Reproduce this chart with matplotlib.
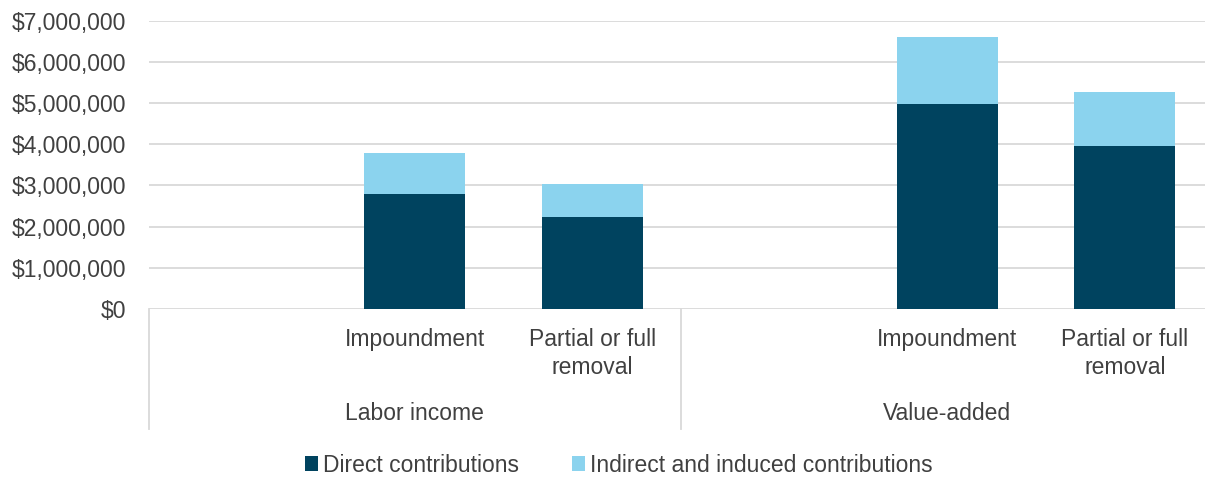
import matplotlib
matplotlib.use("Agg")
import matplotlib.pyplot as plt
from matplotlib.patches import Patch
from matplotlib.ticker import FuncFormatter
import numpy as np

# data (blank slot at the start of each group, as in the original chart)
groups = ["Labor income", "Value-added"]
categories = ["", "Impoundment", "Partial or full\nremoval",
              "", "Impoundment", "Partial or full\nremoval"]
direct = [0, 2800000, 2230000, 0, 4980000, 3960000]
indirect = [0, 990000, 800000, 0, 1620000, 1300000]
series_names = ["Direct contributions", "Indirect and induced contributions"]

dark = "#00435F"
light = "#8BD3EE"
grid_c = "#D9D9D9"
txt_c = "#404040"

plt.rcParams['font.family'] = ['Liberation Sans', 'DejaVu Sans']
fs = 16.5

W, H = 1205, 478
fig = plt.figure(figsize=(W / 100, H / 100), dpi=100)
left, right, top, bottom = 148.6, 1205, 20.5, 309
ax = fig.add_axes([left / W, 1 - bottom / H, (right - left) / W, (bottom - top) / H])

slot = 177.5
x = np.arange(len(categories))
ax.bar(x, direct, width=0.57, color=dark, linewidth=0, zorder=3)
ax.bar(x, indirect, width=0.57, bottom=direct, color=light, linewidth=0, zorder=3)

ax.set_ylim(0, 7000000)
ax.set_xlim(-0.5, -0.5 + (right - left) / slot)
ax.set_yticks(np.arange(0, 7000001, 1000000))
ax.yaxis.set_major_formatter(FuncFormatter(lambda v, p: "${:,.0f}".format(v)))
ax.grid(axis='y', color=grid_c, linewidth=1.3, zorder=0)
for s in ax.spines.values():
    s.set_visible(False)
ax.tick_params(axis='y', length=0, pad=16, labelsize=fs, labelcolor=txt_c)

ax.set_xticks(x)
ax.set_xticklabels(categories, fontsize=fs, color=txt_c, linespacing=1.25)
ax.tick_params(axis='x', length=0, pad=14)

# group labels and separators
trans = ax.get_xaxis_transform()
axh = bottom - top
for i, g in enumerate(groups):
    ax.text(3 * i + 1, -(413 - bottom) / axh, g, transform=trans, ha='center',
            va='center', fontsize=fs, color=txt_c)
for xs in [-0.5, 2.5, 5.5]:
    ax.plot([xs, xs], [0, -(429 - bottom) / axh], transform=trans, color=grid_c,
            linewidth=1.3, clip_on=False)

handles = [Patch(facecolor=dark, label=series_names[0]),
           Patch(facecolor=light, label=series_names[1])]
leg = fig.legend(handles=handles, loc='center', ncol=2, frameon=False,
                 bbox_to_anchor=(619 / W, 1 - 465 / H), fontsize=fs,
                 handlelength=0.55, handleheight=0.65, handletextpad=0.25,
                 columnspacing=2.3)
for t in leg.get_texts():
    t.set_color(txt_c)

fig.savefig("out.png", dpi=100)
